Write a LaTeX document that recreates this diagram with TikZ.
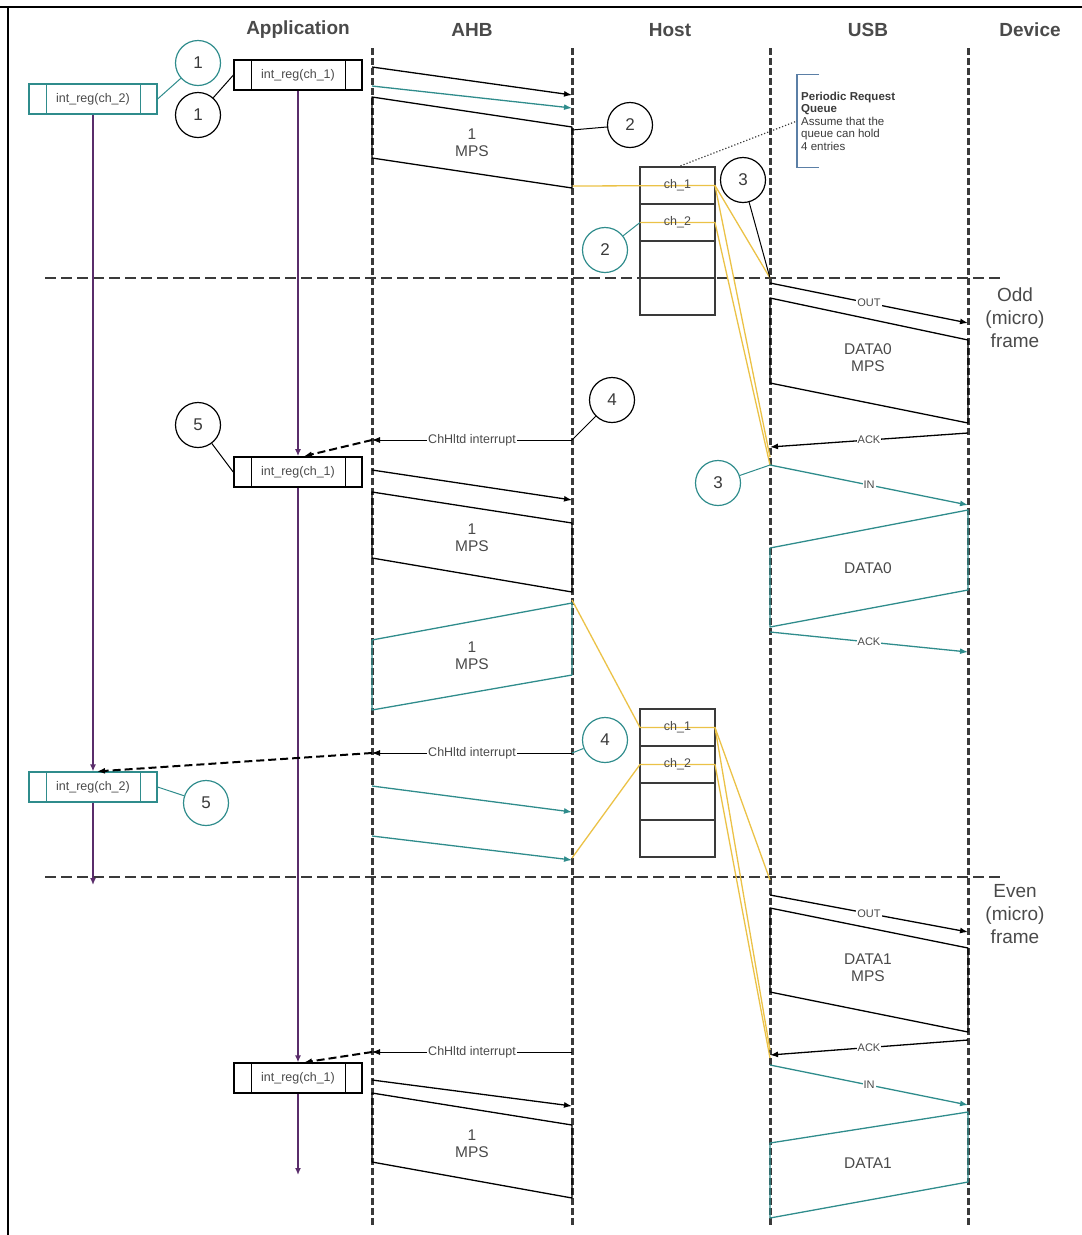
\documentclass[tikz,border=0pt]{standalone}
\usepackage{fontspec}
\setmainfont{Liberation Sans}
\usetikzlibrary{arrows.meta,positioning}
\definecolor{seqTeal}{HTML}{2F8C8C}
\definecolor{seqPurple}{HTML}{5A2D6B}
\definecolor{seqYellow}{HTML}{EBC247}
\definecolor{seqGray}{HTML}{3A3A3A}
\definecolor{seqText}{HTML}{4A4A4A}
\definecolor{seqNote}{HTML}{5B7FA6}

\begin{document}
\begin{tikzpicture}[x=1pt,y=-1pt,
  head/.style={font=\fontsize{19}{22}\selectfont\bfseries,text=seqText},
  lifeline/.style={draw=seqGray,line width=3pt,dash pattern=on 7pt off 3pt},
  framesep/.style={draw=seqGray,line width=2.5pt,dash pattern=on 11pt off 5pt},
  regbox/.style={draw=#1,line width=1.2pt,minimum width=128pt,minimum height=30pt,inner sep=0pt,
    font=\fontsize{12.5}{14}\selectfont,text=seqText,
    path picture={\draw[#1,line width=1pt]
      ([xshift=17pt]path picture bounding box.north west) -- ([xshift=17pt]path picture bounding box.south west)
      ([xshift=-17pt]path picture bounding box.north east) -- ([xshift=-17pt]path picture bounding box.south east);}},
  callout/.style={circle,draw=#1,line width=1.2pt,minimum size=45pt,inner sep=0pt,
    font=\fontsize{17}{19}\selectfont,text=seqGray},
  slot/.style={draw=seqGray,line width=1.2pt,minimum width=75pt,minimum height=37pt,inner sep=0pt,
    outer sep=0pt,font=\fontsize{12.5}{14}\selectfont,text=seqText},
  msg/.style={-{Latex[length=8pt,width=6pt]},line width=1.3pt,draw=black},
  tmsg/.style={msg,draw=seqTeal},
  dat/.style={line width=1.3pt,draw=black,line join=round},
  tdat/.style={dat,draw=seqTeal},
  qline/.style={draw=seqYellow,line width=1.3pt},
  irq/.style={-{Latex[length=8pt,width=6pt]},line width=2pt,dash pattern=on 8pt off 4pt,draw=black},
  appline/.style={-{Latex[length=7pt,width=6pt]},line width=1.6pt,draw=seqPurple},
  lbl/.style={fill=white,inner sep=1pt,font=\fontsize{11}{13}\selectfont,text=seqText},
  mps/.style={align=center,font=\fontsize{15.5}{17}\selectfont,text=seqText},
  framelbl/.style={align=center,font=\fontsize{19}{23}\selectfont,text=seqText},
  note/.style={anchor=west,align=left,inner sep=4pt,minimum height=93pt,
    font=\fontsize{11.5}{12.5}\selectfont,text=seqGray}
]
\useasboundingbox (0,0) rectangle (1082,1235);

% page border
\draw[line width=2.5pt] (0,7) -- (1082,7);
\draw[line width=2.5pt] (8,7) -- (8,1235);

% headers
\node[head] (happ) at (298,30) {Application};
\node[head] (hahb) at (472,30) {AHB};
\node[head] (hhost) at (670,30) {Host};
\node[head] (husb) at (868,30) {USB};
\node[head] (hdev) at (1030,30) {Device};

% lifelines
\coordinate (ahb) at (372,48);
\coordinate (host) at (572,48);
\coordinate (usb) at (770,48);
\coordinate (dev) at (968,48);
\draw[lifeline] (ahb) -- (ahb |- 0,1225);
\draw[lifeline] (host) -- (host |- 0,1225);
\draw[lifeline] (usb) -- (usb |- 0,1225);
\draw[lifeline] (dev) -- (dev |- 0,1225);

% (micro)frame boundaries
\draw[framesep] (45,278) -- (1000,278);
\draw[framesep] (45,877) -- (1000,877);
\node[framelbl] (odd) at (1015,318) {Odd\\(micro)\\frame};
\node[framelbl] (even) at (1015,914) {Even\\(micro)\\frame};

% application side
\node[regbox=black] (regA) at (298,75) {int\_reg(ch\_1)};
\node[regbox=seqTeal] (regB) at (93,99) {int\_reg(ch\_2)};
\node[regbox=black,line width=1.6pt] (regC) at (298,472) {int\_reg(ch\_1)};
\node[regbox=seqTeal] (regD) at (93,787) {int\_reg(ch\_2)};
\node[regbox=black] (regE) at (298,1078) {int\_reg(ch\_1)};
\coordinate (endA) at (298,1175);
\coordinate (endB) at (93,885);
\draw[appline] (regA) -- (regC);
\draw[appline] (regC) -- (regE);
\draw[appline] (regE) -- (endA);
\draw[appline] (regB) -- (regD);
\draw[appline] (regD) -- (endB);

% periodic request queues
\node[slot] (q1a) at (677.5,185.5) {};
\node[slot,below=0pt of q1a] (q1b) {};
\node[slot,below=0pt of q1b] (q1c) {};
\node[slot,below=0pt of q1c] (q1d) {};
\node[slot] (q2a) at (677.5,727.5) {};
\node[slot,below=0pt of q2a] (q2b) {};
\node[slot,below=0pt of q2b] (q2c) {};
\node[slot,below=0pt of q2c] (q2d) {};

\draw[qline] (host |- 0,186) -- (q1a.east);
\draw[qline] (q1a.east) -- (usb |- 0,278);
\draw[qline] (q1a.east) -- (usb |- 0,457);
\draw[qline] (q1b.west) -- (q1b.east) -- (usb |- 0,465);
\draw[qline] (host |- 0,600) -- (q2a.west) -- (q2a.east) -- (usb |- 0,880);
\draw[qline] (q2a.east) -- (usb |- 0,1050);
\draw[qline] (host |- 0,858) -- (q2b.west) -- (q2b.east) -- (usb |- 0,1058);
\node[slot,draw=none] at (q1a) {ch\_1};
\node[slot,draw=none] at (q1b) {ch\_2};
\node[slot,draw=none] at (q2a) {ch\_1};
\node[slot,draw=none] at (q2b) {ch\_2};

\node[note] (note) at (797,121) {\textbf{Periodic Request}\\\textbf{Queue}\\Assume that the\\queue can hold\\4 entries};
\draw[seqNote,line width=1.5pt] ([xshift=22pt]note.north west) -- (note.north west)
  -- (note.south west) -- ([xshift=22pt]note.south west);
\draw[seqGray,dotted,line width=1.2pt] (q1a.north) -- (note.west);

% AHB, first (micro)frame
\draw[msg] (ahb |- 0,67) -- (host |- 0,95);
\draw[tmsg] (ahb |- 0,86) -- (host |- 0,108);
\draw[dat] (ahb |- 0,97) -- (host |- 0,127) -- (host |- 0,188) -- (ahb |- 0,158) -- cycle;
\node[mps] (mps1) at (472,143) {1\\MPS};

% USB, odd (micro)frame
\draw[msg] (usb |- 0,283) -- node[lbl] {OUT} (dev |- 0,323);
\draw[dat] (usb |- 0,298) -- (dev |- 0,340) -- (dev |- 0,423) -- (usb |- 0,383) -- cycle;
\node[mps] (data0a) at (868,358) {DATA0\\MPS};
\draw[msg] (dev |- 0,433) -- node[lbl] {ACK} (usb |- 0,447);
\draw[tmsg] (usb |- 0,465) -- node[lbl] {IN} (dev |- 0,505);
\draw[tdat] (dev |- 0,510) -- (usb |- 0,548) -- (usb |- 0,627) -- (dev |- 0,590) -- cycle;
\node[mps] (data0b) at (868,568) {DATA0};
\draw[tmsg] (usb |- 0,632) -- node[lbl] {ACK} (dev |- 0,652);

% AHB, during odd (micro)frame
\draw[msg,line width=0.8pt] (host |- 0,440) -- node[lbl,font=\fontsize{12.5}{14}\selectfont] {ChHltd interrupt} (ahb |- 0,440);
\draw[irq] (ahb |- 0,440) -- ([xshift=6pt]regC.north);
\draw[msg] (ahb |- 0,470) -- (host |- 0,500);
\draw[dat] (ahb |- 0,492) -- (host |- 0,523) -- (host |- 0,592) -- (ahb |- 0,558) -- cycle;
\node[mps] (mps2) at (472,538) {1\\MPS};
\draw[tdat] (ahb |- 0,640) -- (host |- 0,603) -- (host |- 0,675) -- (ahb |- 0,710) -- cycle;
\node[mps] (mps3) at (472,656) {1\\MPS};
\draw[msg,line width=0.8pt] (host |- 0,753) -- node[lbl,font=\fontsize{12.5}{14}\selectfont] {ChHltd interrupt} (ahb |- 0,753);
\draw[irq] (ahb |- 0,753) -- ([xshift=4pt]regD.north);
\draw[tmsg] (ahb |- 0,786) -- (host |- 0,812);
\draw[tmsg] (ahb |- 0,836) -- (host |- 0,860);

% USB, even (micro)frame
\draw[msg] (usb |- 0,895) -- node[lbl] {OUT} (dev |- 0,932);
\draw[dat] (usb |- 0,908) -- (dev |- 0,948) -- (dev |- 0,1032) -- (usb |- 0,992) -- cycle;
\node[mps] (data1a) at (868,968) {DATA1\\MPS};
\draw[msg] (dev |- 0,1040) -- node[lbl] {ACK} (usb |- 0,1055);
\draw[tmsg] (usb |- 0,1065) -- node[lbl] {IN} (dev |- 0,1105);
\draw[tdat] (dev |- 0,1112) -- (usb |- 0,1143) -- (usb |- 0,1218) -- (dev |- 0,1182) -- cycle;
\node[mps] (data1b) at (868,1163) {DATA1};

% AHB, during even (micro)frame
\draw[msg,line width=0.8pt] (host |- 0,1052) -- node[lbl,font=\fontsize{12.5}{14}\selectfont] {ChHltd interrupt} (ahb |- 0,1052);
\draw[irq] (ahb |- 0,1052) -- ([xshift=6pt]regE.north);
\draw[msg] (ahb |- 0,1080) -- (host |- 0,1106);
\draw[dat] (ahb |- 0,1093) -- (host |- 0,1125) -- (host |- 0,1198) -- (ahb |- 0,1162) -- cycle;
\node[mps] (mps4) at (472,1144) {1\\MPS};

% numbered callouts
\node[callout=seqTeal] (c1t) at (198,63) {1};
\node[callout=black] (c1b) at (198,115) {1};
\node[callout=black] (c2b) at (630,125) {2};
\node[callout=seqTeal] (c2t) at (605,250) {2};
\node[callout=black] (c3b) at (743,180) {3};
\node[callout=black] (c4b) at (612,400) {4};
\node[callout=black] (c5b) at (198,425) {5};
\node[callout=seqTeal] (c3t) at (718,483) {3};
\node[callout=seqTeal] (c4t) at (605,740) {4};
\node[callout=seqTeal] (c5t) at (206,803) {5};
\draw[seqTeal,line width=1pt] (c1t) -- (regB.east);
\draw[line width=1pt] (c1b) -- (regA.west);
\draw[line width=1pt] (c2b) -- (host |- 0,130);
\draw[seqTeal,line width=1pt] (c2t) -- (q1b.west);
\draw[line width=1pt] (c3b) -- (usb |- 0,278);
\draw[line width=1pt] (c4b) -- (host |- 0,440);
\draw[line width=1pt] (c5b) -- (regC.west);
\draw[seqTeal,line width=1pt] (c3t) -- (usb |- 0,465);
\draw[seqTeal,line width=1pt] (c4t) -- (host |- 0,753);
\draw[seqTeal,line width=1pt] (c5t) -- (regD.east);
\end{tikzpicture}
\end{document}
